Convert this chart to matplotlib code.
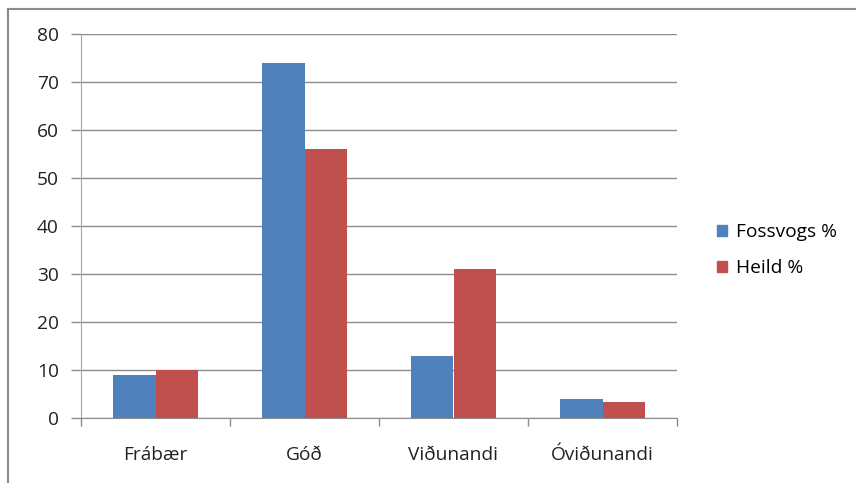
import numpy as np
import matplotlib.pyplot as plt
from matplotlib.lines import Line2D
from matplotlib.patches import Patch

# data
categories = ["Frábær", "Góð", "Viðunandi", "Óviðunandi"]
fossvogs = [9, 74, 13, 4]
heild = [10, 56, 31, 3.4]
series_names = ["Fossvogs %", "Heild %"]

BLUE = "#4F81BD"
RED = "#C0504D"
GRID = "#8C8C8C"

plt.rcParams["font.family"] = ["Open Sans", "DejaVu Sans"]

fig = plt.figure(figsize=(8.56, 4.83), dpi=100)
ax = fig.add_axes([81 / 856, 65 / 483, 596 / 856, 384 / 483])

x = np.arange(len(categories))
w = 0.285
ax.bar(x - w / 2, fossvogs, width=w, color=BLUE, zorder=3)
ax.bar(x + w / 2, heild, width=w, color=RED, zorder=3)

ax.set_xlim(-0.5, len(categories) - 0.5)
ax.set_ylim(0, 80)
ax.set_yticks(range(0, 81, 10))
ax.yaxis.grid(True, color=GRID, linewidth=1.0, zorder=0)

# category labels centred, ticks on the boundaries
ax.set_xticks(x)
ax.set_xticklabels(categories, fontsize=13.8, color="#222222")
ax.set_xticks(np.arange(-0.5, len(categories), 1), minor=True)
ax.tick_params(axis="x", which="major", length=0, pad=20)
ax.tick_params(axis="x", which="minor", length=6, color=GRID, width=1)
ax.tick_params(axis="y", length=7, color=GRID, width=1, pad=9,
               labelsize=13.8, labelcolor="#222222")

for s in ["top", "right"]:
    ax.spines[s].set_visible(False)
ax.spines["left"].set_color("#A6A6A6")
ax.spines["bottom"].set_color(GRID)

handles = [Patch(color=BLUE, label=series_names[0]),
           Patch(color=RED, label=series_names[1])]
fig.legend(handles=handles, loc="center left", bbox_to_anchor=(0.817, 0.482),
           frameon=False, fontsize=13.8, handlelength=0.55, handleheight=0.55,
           handletextpad=0.45, labelspacing=0.95)

# outer chart frame (top and left edges visible)
fig.add_artist(Line2D([8 / 856, 8 / 856], [0, 1 - 9 / 483],
                      transform=fig.transFigure, color="#8A8A8A", linewidth=1.5))
fig.add_artist(Line2D([8 / 856, 1], [1 - 9 / 483, 1 - 9 / 483],
                      transform=fig.transFigure, color="#8A8A8A", linewidth=1.5))

fig.savefig("out.png", dpi=100)
